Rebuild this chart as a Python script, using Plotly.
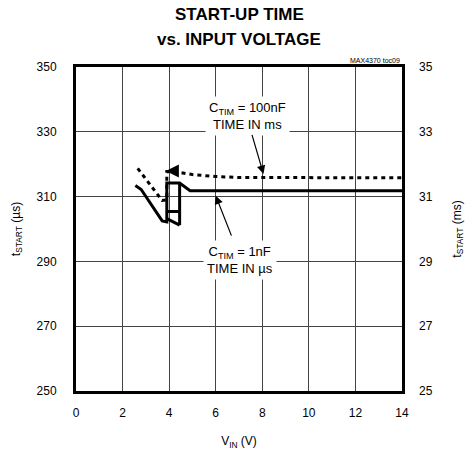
import plotly.graph_objects as go

# Start-up time vs. input voltage (MAX4370)
# C_TIM = 1nF curve (left axis, microseconds): main path plus hysteresis rungs
vin_1nf = [2.55, 2.8, 3.7, 3.9, 3.9, 4.45, 4.9, 14.0, None,
           4.45, 4.45, None,
           3.9, 4.45, None,
           3.9, 4.45]
t_1nf = [313.4, 312.2, 302.5, 302.2, 314.2, 314.2, 311.8, 311.8, None,
         314.2, 301.2, None,
         305.4, 305.4, None,
         303.2, 301.2]

# C_TIM = 100nF curve (plotted on the same grid, read in milliseconds)
vin_100nf = [2.65, 3.0, 3.4, 3.7, 3.9, 3.9, 4.3, 5.0, 6.0, 7.0, 14.0]
t_100nf = [318.7, 315.5, 311.5, 308.8, 309.0, 317.7, 317.6, 316.8, 316.2, 315.9, 315.8]

x_ticks = [0, 2, 4, 6, 8, 10, 12, 14]
y_left_ticks = [250, 270, 290, 310, 330, 350]
y_right_ticks = [25, 27, 29, 31, 33, 35]

FONT = "Liberation Sans, Arial, sans-serif"

fig = go.Figure()
fig.add_trace(go.Scatter(
    x=vin_1nf, y=t_1nf, mode="lines", connectgaps=False,
    line=dict(color="black", width=3), showlegend=False, hoverinfo="skip"))
fig.add_trace(go.Scatter(
    x=vin_100nf, y=t_100nf, mode="lines",
    line=dict(color="black", width=3, dash="4px,4px"), showlegend=False,
    hoverinfo="skip"))
# invisible trace so the right-hand axis is drawn
fig.add_trace(go.Scatter(
    x=[0], y=[30], yaxis="y2", mode="markers", marker=dict(opacity=0),
    showlegend=False, hoverinfo="skip"))

axis_common = dict(
    showline=True, linecolor="black", linewidth=3, mirror=True,
    showgrid=True, gridcolor="#444", gridwidth=1, zeroline=False,
    automargin=False,
    ticks="", tickfont=dict(family=FONT, size=12, color="black"),
)

fig.update_layout(
    width=470, height=450,
    margin=dict(l=76, r=68, t=67, b=59),
    paper_bgcolor="white", plot_bgcolor="white",
    font=dict(family=FONT, color="black"),
    xaxis=dict(range=[0, 14], tickvals=x_ticks, ticklabelstandoff=9, **axis_common,
               title=dict(text="V<sub>IN</sub> (V)", font=dict(size=12), standoff=18)),
    yaxis=dict(range=[250, 350], tickvals=y_left_ticks, ticklabelstandoff=14, **axis_common,
               title=dict(text="t<sub>START</sub> (µs)", font=dict(size=12), standoff=14)),
    yaxis2=dict(range=[25, 35], tickvals=y_right_ticks, overlaying="y", side="right",
                showline=False, showgrid=False, zeroline=False, ticks="",
                ticklabelstandoff=16, automargin=False,
                tickfont=dict(family=FONT, size=12, color="black"),
                title=dict(text="t<sub>START</sub> (ms)", font=dict(size=12), standoff=20)),
)

annotations = [
    dict(text="<b>START-UP TIME</b>", x=0.5, y=15, xref="paper", yref="paper",
         showarrow=False, font=dict(size=17)),
    dict(text="<b>vs. INPUT VOLTAGE</b>", x=0.5, y=39, xref="paper", yref="paper",
         showarrow=False, font=dict(size=17)),
    dict(text="MAX4370 toc09", x=1.0, y=1.0, xref="paper", yref="paper",
         xanchor="right", yanchor="bottom", yshift=1, showarrow=False,
         font=dict(size=7)),
    # curve labels with white boxes over the grid
    dict(text="C<sub>TIM</sub> = 100nF<br>TIME IN ms", x=7.36, y=335.0,
         showarrow=False, bgcolor="white", borderpad=3,
         font=dict(size=13)),
    dict(text="C<sub>TIM</sub> = 1nF<br>TIME IN µs", x=7.04, y=290.4,
         showarrow=False, bgcolor="white", borderpad=3,
         font=dict(size=13)),
    # pointer arrows
    dict(x=8.05, y=317.0, ax=7.54, ay=329.5, axref="x", ayref="y",
         showarrow=True, arrowhead=2, arrowsize=1.4, arrowwidth=1.2,
         arrowcolor="black", text=""),
    dict(x=6.0, y=310.3, ax=6.7, ay=297.5, axref="x", ayref="y",
         showarrow=True, arrowhead=2, arrowsize=1.4, arrowwidth=1.2,
         arrowcolor="black", text=""),
    # direction arrow on the 100nF hysteresis
    dict(x=3.86, y=317.9, ax=4.3, ay=317.9, axref="x", ayref="y",
         showarrow=True, arrowhead=2, arrowsize=1.3, arrowwidth=2,
         arrowcolor="black", text=""),
]
# title annotations are positioned in pixels from the top of the page
for a in annotations[:2]:
    a["yref"] = "paper"
    a["y"] = 1 + (67 - a["y"]) / 324
    a["yanchor"] = "middle"
fig.update_layout(annotations=annotations)

fig.write_html("out.html")
